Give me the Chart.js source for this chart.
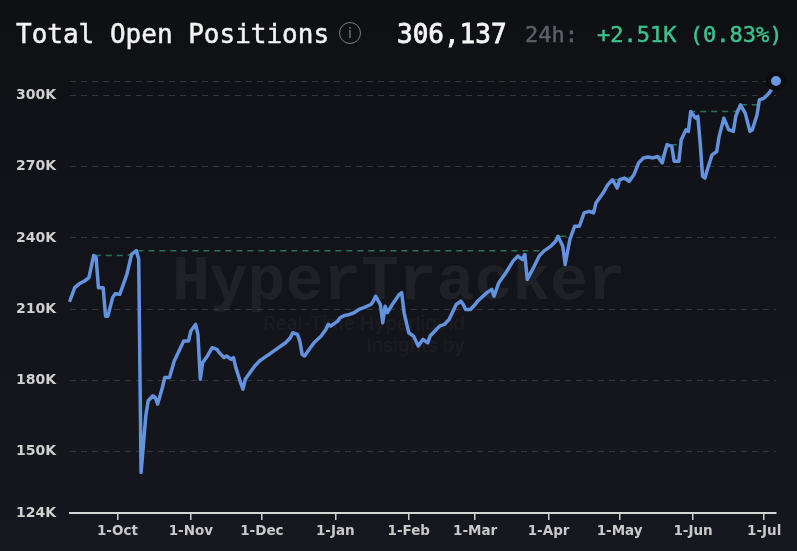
<!DOCTYPE html>
<html>
<head>
<meta charset="utf-8">
<title>Total Open Positions</title>
<script src="https://cdn.jsdelivr.net/npm/chart.js@4.4.1/dist/chart.umd.min.js"></script>
<style>
  html, body { margin: 0; padding: 0; }
  body {
    width: 797px; height: 551px; overflow: hidden; position: relative;
    background: linear-gradient(#0f1014, #17181f);
  }
  .hdr {
    position: absolute; line-height: 1; white-space: pre;
    font-family: "DejaVu Sans Mono", monospace; -webkit-text-stroke: 0.5px currentColor;
  }
  #title { left: 16px; top: 21px; font-size: 26px; color: #f2f2f2; }
  #total { left: 397px; top: 21px; font-size: 26px; color: #f4f4f4; -webkit-text-stroke: 0.8px currentColor; }
  #h24 { left: 525px; top: 24px; font-size: 22px; color: #5c5f67; }
  #chg { left: 597px; top: 24px; font-size: 22px; color: #3cc28b; }
  #info {
    position: absolute; left: 339px; top: 22px; width: 20px; height: 20px;
    border: 1.5px solid #7b7d83; border-radius: 50%; color: #7b7d83;
    font: 14px "DejaVu Sans", sans-serif; line-height: 20px; text-align: center;
  }
  .wm { position: absolute; white-space: pre; line-height: 1; }
  #wm1 { left: 172px; top: 247px; font: bold 63px "Liberation Mono", monospace; color: rgba(255,255,255,0.06); }
  #wm2 { right: 332px; top: 312px; font: 500 19px Inter, sans-serif; color: rgba(255,255,255,0.05); text-align: right; }
  #wm3 { right: 332px; top: 334px; font: 500 19px Inter, sans-serif; color: rgba(255,255,255,0.05); text-align: right; }
  #c { position: absolute; left: 0; top: 0; }
</style>
</head>
<body>
<div class="wm" id="wm1">HyperTracker</div>
<div class="wm" id="wm2">Real-Time Hyperliquid</div>
<div class="wm" id="wm3">Insights by</div>
<canvas id="c" width="797" height="551"></canvas>
<div class="hdr" id="title">Total Open Positions</div>
<div id="info">i</div>
<div class="hdr" id="total">306,137</div>
<div class="hdr" id="h24">24h:</div>
<div class="hdr" id="chg">+2.51K (0.83%)</div>

<script>
(function () {
  'use strict';

  // first day on the chart; days[] are offsets from it
  const START = '2024-09-11';
  const END_DAY = 298;

  const days = [
    0, 2, 4, 6, 8, 10, 11, 12, 14, 15, 16, 18, 19, 21, 24, 26, 28, 29, 30, 32,
    33, 35, 36, 37, 39, 40, 42, 44, 46, 48, 50, 51, 53, 54, 55, 56, 58, 60, 62, 63,
    65, 66, 68, 69, 70, 72, 73, 74, 76, 78, 80, 82, 84, 87, 88, 89, 91, 93, 94, 96,
    97, 98, 99, 101, 103, 106, 108, 109, 110, 113, 114, 116, 118, 120, 122, 124, 127, 128, 129, 131,
    132, 133, 134, 136, 137, 139, 140, 141, 143, 145, 147, 149, 151, 152, 154, 156, 158, 160, 162, 163,
    165, 166, 167, 169, 171, 172, 176, 178, 179, 181, 184, 187, 189, 191, 192, 193, 196, 198, 200, 203,
    205, 206, 208, 209, 211, 213, 215, 217, 219, 221, 222, 225, 227, 229, 231, 232, 234, 236, 238, 240,
    242, 244, 246, 248, 250, 251, 252, 254, 255, 257, 258, 260, 261, 262, 264, 265, 266, 267, 268, 269,
    271, 273, 274, 276, 278, 280, 281, 283, 285, 287, 288, 290, 291, 293, 295, 296, 298
  ];

  const openPositions = [
    213600, 219000, 220700, 221700, 223200, 232600, 231800, 219000, 219000, 207000,
    207000, 214800, 216400, 216200, 224600, 233000, 234600, 231000, 141100, 165000,
    171300, 173400, 172700, 169900, 176900, 181100, 181100, 188100, 192300, 196500,
    196500, 200700, 203500, 199300, 180400, 187400, 190200, 193700, 193000, 191600,
    189500, 190200, 188800, 189500, 185300, 179000, 176200, 180400, 183200, 186000,
    188100, 189500, 190900, 193000, 193700, 194400, 195800, 197900, 200000, 199300,
    196500, 190900, 190200, 193000, 195800, 198600, 201400, 203500, 202800, 204900,
    206300, 207300, 207700, 208500, 209800, 210600, 211900, 213300, 215400, 211900,
    204200, 211200, 208500, 211900, 213300, 216200, 216900, 208500, 200000, 198600,
    194400, 197200, 195800, 198600, 200700, 202800, 203500, 205600, 209800, 211900,
    213300, 211900, 209800, 209800, 211900, 213300, 216900, 218300, 215400, 221100,
    225300, 230200, 232300, 230900, 233000, 222500, 228100, 232300, 234400, 236500,
    238600, 240700, 236500, 228800, 239300, 244900, 244900, 250500, 251200, 250500,
    254700, 258900, 262400, 264500, 261000, 264500, 265200, 263800, 266600, 271600,
    273700, 274100, 273700, 274300, 271600, 275800, 279300, 278600, 272300, 272300,
    281400, 285600, 284900, 293300, 290500, 291200, 280000, 266000, 265200, 268700,
    275000, 276400, 282800, 290500, 285600, 284900, 291200, 296100, 292600, 284900,
    285600, 291900, 298200, 298900, 301000, 302400, 306137
  ];

  const tickDates = ['2024-10-01', '2024-11-01', '2024-12-01', '2025-01-01', '2025-02-01',
    '2025-03-01', '2025-04-01', '2025-05-01', '2025-06-01', '2025-07-01'];
  const tickLabels = ['1-Oct', '1-Nov', '1-Dec', '1-Jan', '1-Feb', '1-Mar', '1-Apr', '1-May', '1-Jun', '1-Jul'];
  const yTicks = [124000, 150000, 180000, 210000, 240000, 270000, 300000];

  const dayOf = (s) => Math.round((Date.parse(s) - Date.parse(START)) / 86400000);
  const tickDays = tickDates.map(dayOf);
  const yMax = Math.max.apply(null, openPositions);

  // running high, drawn as the dashed green line under the series
  let hi = -Infinity;
  const runningHigh = openPositions.map((v) => (hi = Math.max(hi, v)));

  const pts = (arr) => days.map((d, i) => ({ x: d, y: arr[i] }));
  const last = openPositions.length - 1;

  Chart.defaults.font.family = '"DejaVu Sans", sans-serif';

  new Chart(document.getElementById('c').getContext('2d'), {
    type: 'line',
    data: {
      datasets: [{
        data: pts(openPositions),
        borderColor: '#6392de', borderWidth: 3.5, tension: 0,
        borderJoinStyle: 'round', borderCapStyle: 'round',
        pointRadius: (ctx) => (ctx.dataIndex === last ? 7.5 : 0),
        pointBackgroundColor: '#6b96e2', pointBorderColor: '#0b0c10', pointBorderWidth: 5,
        pointHoverRadius: 0, clip: false
      }, {
        data: pts(runningHigh),
        borderColor: 'rgba(52,170,120,0.65)', borderWidth: 1.5, borderDash: [6, 5],
        tension: 0, pointRadius: 0, pointHoverRadius: 0
      }]
    },
    options: {
      responsive: false, animation: false, devicePixelRatio: 1,
      layout: { padding: { top: 81, right: 21, left: 0, bottom: 0 } },
      plugins: { legend: { display: false }, tooltip: { enabled: false } },
      scales: {
        x: {
          type: 'linear', min: 0, max: END_DAY,
          afterBuildTicks: (s) => { s.ticks = tickDays.map((v) => ({ value: v })); },
          afterFit: (s) => { s.height = 38; },
          ticks: {
            autoSkip: false, maxRotation: 0, padding: 3, color: '#c9c9c9',
            font: { size: 13.5, weight: 'bold' },
            callback: (v) => tickLabels[tickDays.indexOf(v)]
          },
          grid: { drawOnChartArea: false, drawTicks: true, tickLength: 7, color: '#cfcfcf', lineWidth: 1.5 },
          border: { display: true, color: '#d4d4d4', width: 2 }
        },
        y: {
          min: yTicks[0], max: yMax,
          afterBuildTicks: (s) => { s.ticks = yTicks.concat(yMax).map((v) => ({ value: v })); },
          afterFit: (s) => { s.width = 70; },
          ticks: {
            padding: 14, color: '#d0d0d0', font: { size: 14, weight: 'bold' },
            callback: (v) => (v === yMax ? '' : (v / 1000) + 'K')
          },
          grid: {
            drawTicks: false, lineWidth: 1,
            color: (ctx) => (ctx.tick && ctx.tick.value === yTicks[0] ? 'rgba(0,0,0,0)' : '#34363e')
          },
          border: { display: false, dash: [6, 5] }
        }
      }
    }
  });
})();
</script>
</body>
</html>
